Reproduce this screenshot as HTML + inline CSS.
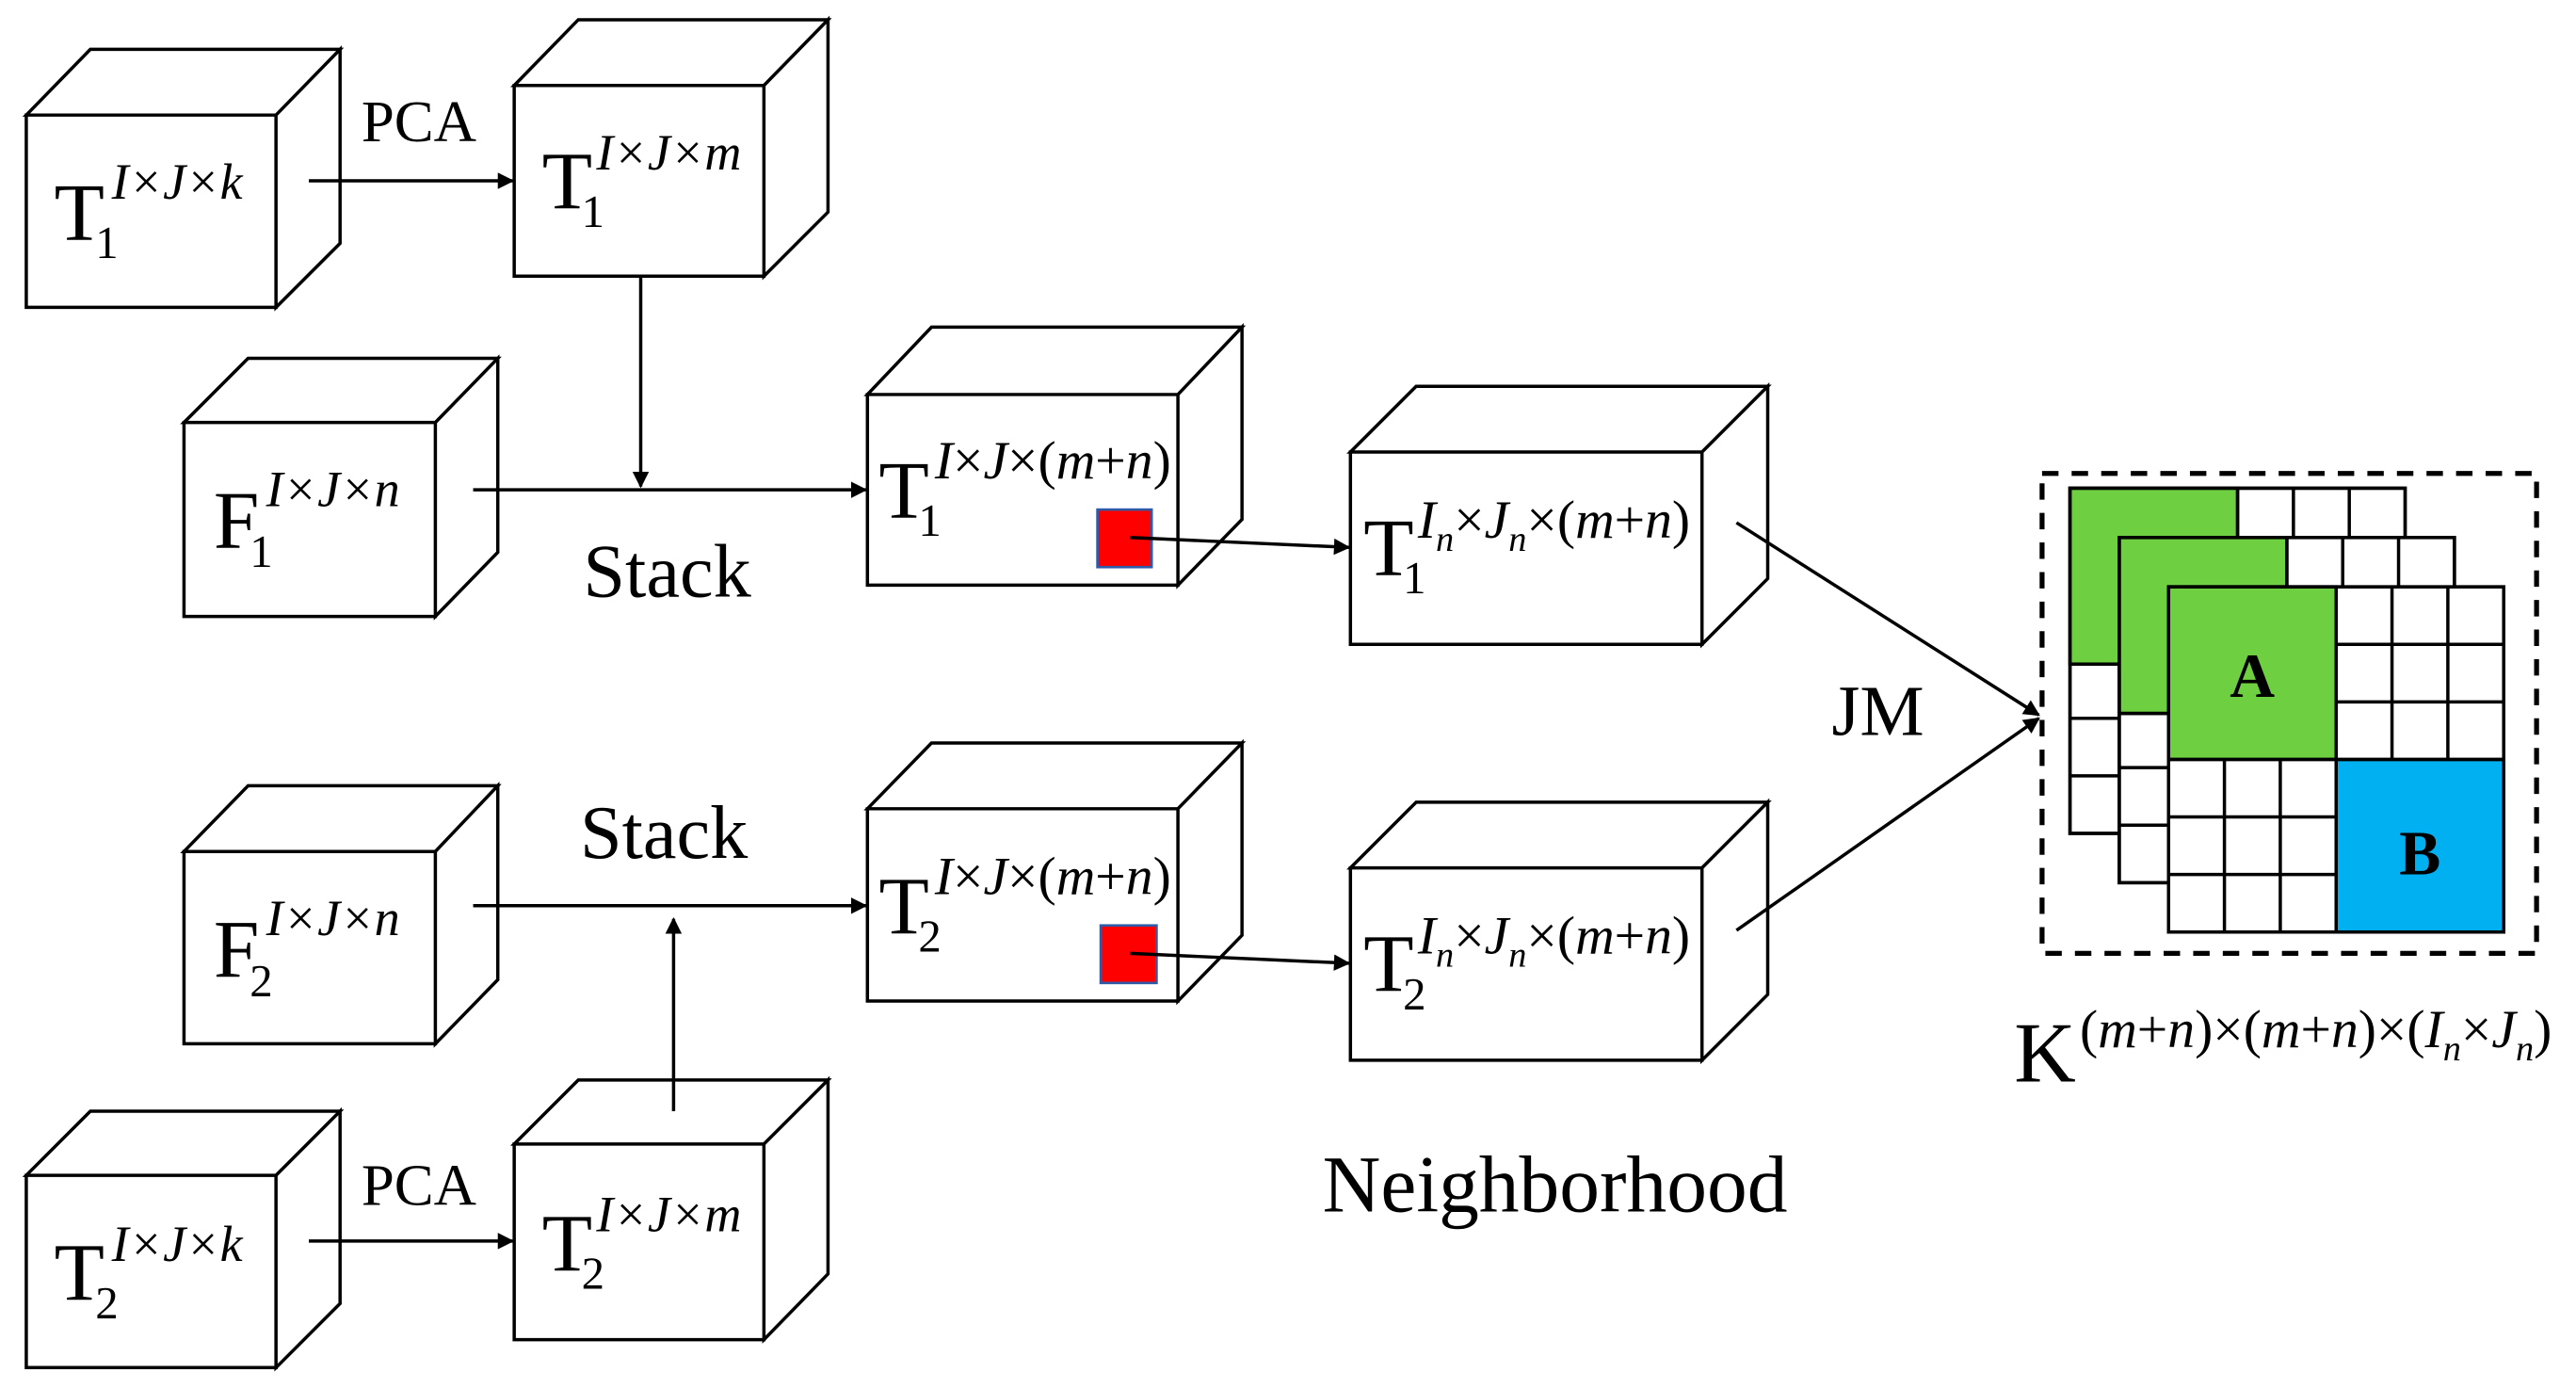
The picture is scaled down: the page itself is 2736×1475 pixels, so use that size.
<!DOCTYPE html>
<html><head><meta charset="utf-8"><style>html,body{margin:0;padding:0;background:#fff}svg{display:block}</style></head>
<body>
<svg width="2736" height="1475" viewBox="0 0 1568 845" preserveAspectRatio="none" xmlns="http://www.w3.org/2000/svg">
<defs><marker id="a" markerWidth="10" markerHeight="10" refX="9" refY="5" orient="auto" markerUnits="userSpaceOnUse"><path d="M0,0 L10,5 L0,10 Z" fill="#000"/></marker></defs>
<g fill="#fff" stroke="#000" stroke-width="2" stroke-linejoin="miter">
<path d="M16,70H168V187H16Z M16,70L55,30H207L168,70Z M168,70L207,30V148L168,187Z"/>
<path d="M313,52H465V168H313Z M313,52L352,12H504L465,52Z M465,52L504,12V129L465,168Z"/>
<path d="M112,257H265V375H112Z M112,257L151,218H303L265,257Z M265,257L303,218V336L265,375Z"/>
<path d="M528,240H717V356H528Z M528,240L567,199H756L717,240Z M717,240L756,199V316L717,356Z"/>
<path d="M822,275H1036V392H822Z M822,275L862,235H1076L1036,275Z M1036,275L1076,235V352L1036,392Z"/>
<path d="M112,518H265V635H112Z M112,518L151,478H303L265,518Z M265,518L303,478V596L265,635Z"/>
<path d="M528,492H717V609H528Z M528,492L567,452H756L717,492Z M717,492L756,452V569L717,609Z"/>
<path d="M822,528H1036V645H822Z M822,528L862,488H1076L1036,528Z M1036,528L1076,488V605L1036,645Z"/>
<path d="M16,715H168V832H16Z M16,715L55,676H207L168,715Z M168,715L207,676V793L168,832Z"/>
<path d="M313,696H465V815H313Z M313,696L352,657H504L465,696Z M465,696L504,657V775L465,815Z"/>
</g>
<rect x="668" y="310" width="33" height="35" fill="#f00" stroke="#2e5aa8" stroke-width="1.5"/>
<rect x="670" y="563" width="34" height="35" fill="#f00" stroke="#2e5aa8" stroke-width="1.5"/>
<g stroke="#000" stroke-width="2" fill="none" marker-end="url(#a)">
<line x1="188" y1="110" x2="312" y2="110"/>
<line x1="188" y1="755" x2="312" y2="755"/>
<line x1="390" y1="168" x2="390" y2="296"/>
<line x1="288" y1="298" x2="527" y2="298"/>
<line x1="288" y1="551" x2="527" y2="551"/>
<line x1="410" y1="676" x2="410" y2="559"/>
<line x1="688" y1="327" x2="821" y2="333"/>
<line x1="688" y1="580" x2="821" y2="586"/>
<line x1="1057" y1="318" x2="1241" y2="435"/>
<line x1="1057" y1="566" x2="1241" y2="437"/>
</g>
<rect x="1243" y="288" width="301" height="292" fill="none" stroke="#000" stroke-width="3" stroke-dasharray="10,8"/>
<g stroke="#000" stroke-width="2">
<g transform="translate(1260,297)">
<rect width="204" height="210" fill="#fff"/><rect width="102" height="107" fill="#6ecf41"/>
<path d="M34,107V210M68,107V210M102,0V210M136,0V210M170,0V210M102,35H204M102,70H204M0,107H204M0,140H204M0,175H204" fill="none"/>
<rect width="204" height="210" fill="none"/></g>
<g transform="translate(1290,327)">
<rect width="204" height="210" fill="#fff"/><rect width="102" height="107" fill="#6ecf41"/>
<path d="M34,107V210M68,107V210M102,0V210M136,0V210M170,0V210M102,35H204M102,70H204M0,107H204M0,140H204M0,175H204" fill="none"/>
<rect width="204" height="210" fill="none"/></g>
<g transform="translate(1320,357)">
<rect width="204" height="210" fill="#fff"/><rect width="102" height="105" fill="#6ecf41"/><rect x="102" y="105" width="102" height="105" fill="#00b0f0"/>
<path d="M34,105V210M68,105V210M102,0V210M136,0V105M170,0V105M0,105H204M102,35H204M102,70H204M0,140H102M0,175H102" fill="none"/>
<rect width="204" height="210" fill="none"/></g>
</g>
<g font-family="Liberation Serif, serif" fill="#000">
<text x="1371" y="424" font-size="38" font-weight="bold" text-anchor="middle">A</text>
<text x="1473" y="532" font-size="38" font-weight="bold" text-anchor="middle">B</text>
<text x="220" y="86" font-size="36">PCA</text>
<text x="220" y="733" font-size="36">PCA</text>
<text x="355" y="363" font-size="46">Stack</text>
<text x="353" y="522" font-size="46">Stack</text>
<text x="805" y="737" font-size="49">Neighborhood</text>
<text x="1115" y="447" font-size="44">JM</text>
<text x="33" y="146" font-size="50">T</text><text x="58" y="157" font-size="28">1</text><text x="68" y="121" font-size="31" font-style="italic">I×J×k</text>
<text x="330" y="127" font-size="50">T</text><text x="354" y="138" font-size="28">1</text><text x="363" y="103" font-size="31" font-style="italic">I×J×m</text>
<text x="130" y="333" font-size="50">F</text><text x="152" y="345" font-size="28">1</text><text x="162" y="308" font-size="31" font-style="italic">I×J×n</text>
<text x="130" y="594" font-size="50">F</text><text x="152" y="606" font-size="28">2</text><text x="162" y="569" font-size="31" font-style="italic">I×J×n</text>
<text x="33" y="791" font-size="50">T</text><text x="58" y="802" font-size="28">2</text><text x="68" y="767" font-size="31" font-style="italic">I×J×k</text>
<text x="330" y="773" font-size="50">T</text><text x="354" y="784" font-size="28">2</text><text x="363" y="749" font-size="31" font-style="italic">I×J×m</text>
<text x="535" y="315" font-size="50">T</text><text x="559" y="326" font-size="28">1</text><text x="569" y="291" font-size="33"><tspan font-style="italic">I</tspan>×<tspan font-style="italic">J</tspan>×(<tspan font-style="italic">m</tspan>+<tspan font-style="italic">n</tspan>)</text>
<text x="535" y="568" font-size="50">T</text><text x="559" y="579" font-size="28">2</text><text x="569" y="544" font-size="33"><tspan font-style="italic">I</tspan>×<tspan font-style="italic">J</tspan>×(<tspan font-style="italic">m</tspan>+<tspan font-style="italic">n</tspan>)</text>
<text x="830" y="350" font-size="50">T</text><text x="854" y="361" font-size="28">1</text><text x="863" y="327" font-size="33"><tspan font-style="italic">I</tspan><tspan font-size="22" dy="8" font-style="italic">n</tspan><tspan dy="-8">×</tspan><tspan font-style="italic">J</tspan><tspan font-size="22" dy="8" font-style="italic">n</tspan><tspan dy="-8">×(</tspan><tspan font-style="italic">m</tspan>+<tspan font-style="italic">n</tspan>)</text>
<text x="830" y="603" font-size="50">T</text><text x="854" y="614" font-size="28">2</text><text x="863" y="580" font-size="33"><tspan font-style="italic">I</tspan><tspan font-size="22" dy="8" font-style="italic">n</tspan><tspan dy="-8">×</tspan><tspan font-style="italic">J</tspan><tspan font-size="22" dy="8" font-style="italic">n</tspan><tspan dy="-8">×(</tspan><tspan font-style="italic">m</tspan>+<tspan font-style="italic">n</tspan>)</text>
<text x="1226" y="658" font-size="52">K</text>
<text x="1266" y="637" font-size="33">(<tspan font-style="italic">m</tspan>+<tspan font-style="italic">n</tspan>)×(<tspan font-style="italic">m</tspan>+<tspan font-style="italic">n</tspan>)×(<tspan font-style="italic">I</tspan><tspan font-size="22" dy="8" font-style="italic">n</tspan><tspan dy="-8">×</tspan><tspan font-style="italic">J</tspan><tspan font-size="22" dy="8" font-style="italic">n</tspan><tspan dy="-8">)</tspan></text>
</g>
</svg>
</body></html>
